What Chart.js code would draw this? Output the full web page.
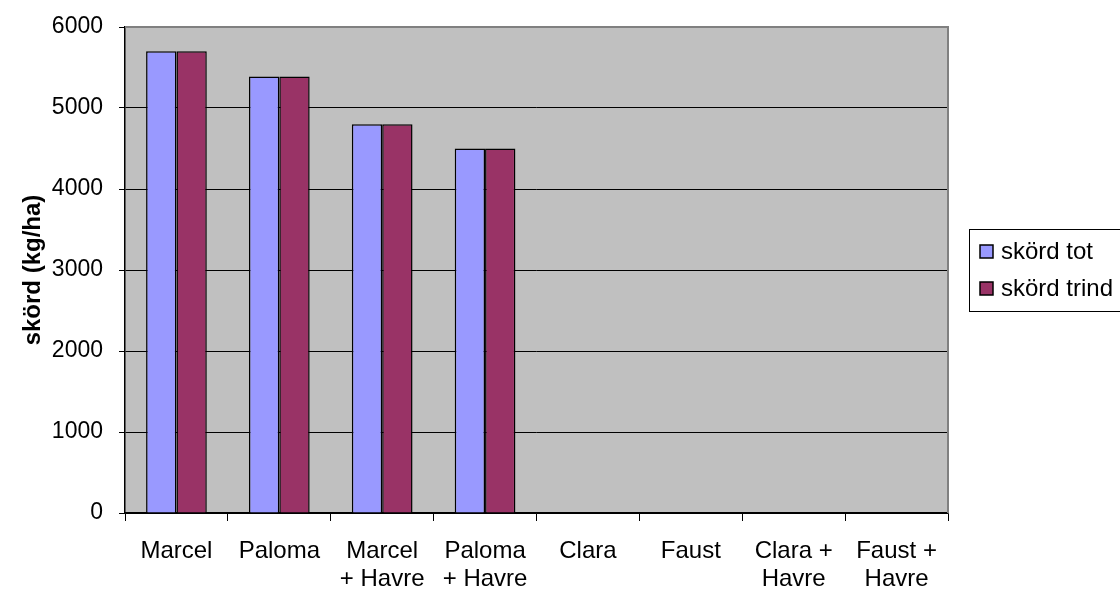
<!DOCTYPE html>
<html>
<head>
<meta charset="utf-8">
<script src="https://cdn.jsdelivr.net/npm/chart.js@4/dist/chart.umd.min.js"></script>
<style>
  html, body { margin:0; padding:0; background:#fff; }
  #wrap { width:1120px; height:597px; }
</style>
</head>
<body>
<div id="wrap"><canvas id="chart" width="1120" height="597"></canvas></div>
<script>
const categories = [
  "Marcel", "Paloma", ["Marcel", "+ Havre"], ["Paloma", "+ Havre"],
  "Clara", "Faust", ["Clara +", "Havre"], ["Faust +", "Havre"]
];
const skordTot   = [5700, 5390, 4800, 4500, null, null, null, null];
const skordTrind = [5700, 5390, 4800, 4500, null, null, null, null];
const seriesNames = ["skörd tot", "skörd trind"];
const yTicks = [0, 1000, 2000, 3000, 4000, 5000, 6000];

const FONT = "Arial, 'Liberation Sans', sans-serif";

// grå plotyta + ram
const plotBg = {
  id: "plotBg",
  beforeDraw(chart){
    const { ctx, chartArea: a } = chart;
    ctx.save();
    ctx.fillStyle = "#c0c0c0";
    ctx.fillRect(a.left, a.top, a.right - a.left, a.bottom - a.top);
    ctx.restore();
  },
  afterDatasetsDraw(chart){
    const { ctx, chartArea: a } = chart;
    ctx.save();
    ctx.strokeStyle = "#808080";
    ctx.lineWidth = 2;
    ctx.beginPath();
    ctx.moveTo(a.left, a.top);
    ctx.lineTo(a.right, a.top);
    ctx.lineTo(a.right, a.bottom);
    ctx.stroke();
    ctx.restore();
  }
};

// legend i ruta till höger (som i Excel)
const boxLegend = {
  id: "boxLegend",
  afterDraw(chart){
    const { ctx } = chart;
    const x = 969.5, y = 229.5, w = 170, h = 82;
    ctx.save();
    ctx.fillStyle = "#fff";
    ctx.fillRect(x, y, w, h);
    ctx.strokeStyle = "#000";
    ctx.lineWidth = 1;
    ctx.strokeRect(x, y, w, h);
    ctx.font = "24px " + FONT;
    ctx.textBaseline = "middle";
    chart.data.datasets.forEach((ds, i) => {
      const cy = 251 + i * 37;
      ctx.fillStyle = ds.backgroundColor;
      ctx.fillRect(980, cy - 6, 13, 13);
      ctx.strokeStyle = "#000";
      ctx.lineWidth = 1.5;
      ctx.strokeRect(980, cy - 6, 13, 13);
      ctx.fillStyle = "#000";
      ctx.fillText(ds.label, 1001, cy + 1);
    });
    ctx.restore();
  }
};

new Chart(document.getElementById("chart").getContext("2d"), {
  type: "bar",
  data: {
    labels: categories,
    datasets: [
      { label: seriesNames[0], data: skordTot, backgroundColor: "#9999ff", borderColor: "#000", borderWidth: 1.5 },
      { label: seriesNames[1], data: skordTrind, backgroundColor: "#993366", borderColor: "#000", borderWidth: 1.5 }
    ]
  },
  options: {
    responsive: false,
    animation: false,
    layout: { padding: { left: 0, top: 27, right: 172, bottom: 0 } },
    datasets: { bar: { categoryPercentage: 0.59, barPercentage: 1.0 } },
    plugins: {
      legend: { display: false },
      tooltip: { enabled: false }
    },
    scales: {
      x: {
        grid: { drawOnChartArea: false, drawTicks: true, tickLength: 8, color: "#000", offset: true },
        border: { color: "#000", width: 1.5 },
        ticks: { color: "#000", font: { family: FONT, size: 24, lineHeight: 1.17 }, padding: 16, maxRotation: 0, autoSkip: false },
        afterFit(scale){ scale.height = 84; }
      },
      y: {
        min: 0, max: 6000,
        afterBuildTicks(scale){ scale.ticks = yTicks.map(v => ({ value: v })); },
        grid: { color: "#000", lineWidth: 1, tickLength: 6 },
        border: { color: "#000", width: 1.5 },
        ticks: { color: "#000", font: { family: FONT, size: 23 }, padding: 16, callback: v => String(v) },
        title: { display: true, text: "skörd (kg/ha)", color: "#000", font: { family: FONT, size: 24, weight: "bold" }, padding: { top: 19, bottom: 0 } },
        afterFit(scale){
          scale.width = 125;
          scale.paddingTop = 0;
          scale.paddingBottom = 0;
        }
      }
    }
  },
  plugins: [plotBg, boxLegend]
});
</script>
</body>
</html>
